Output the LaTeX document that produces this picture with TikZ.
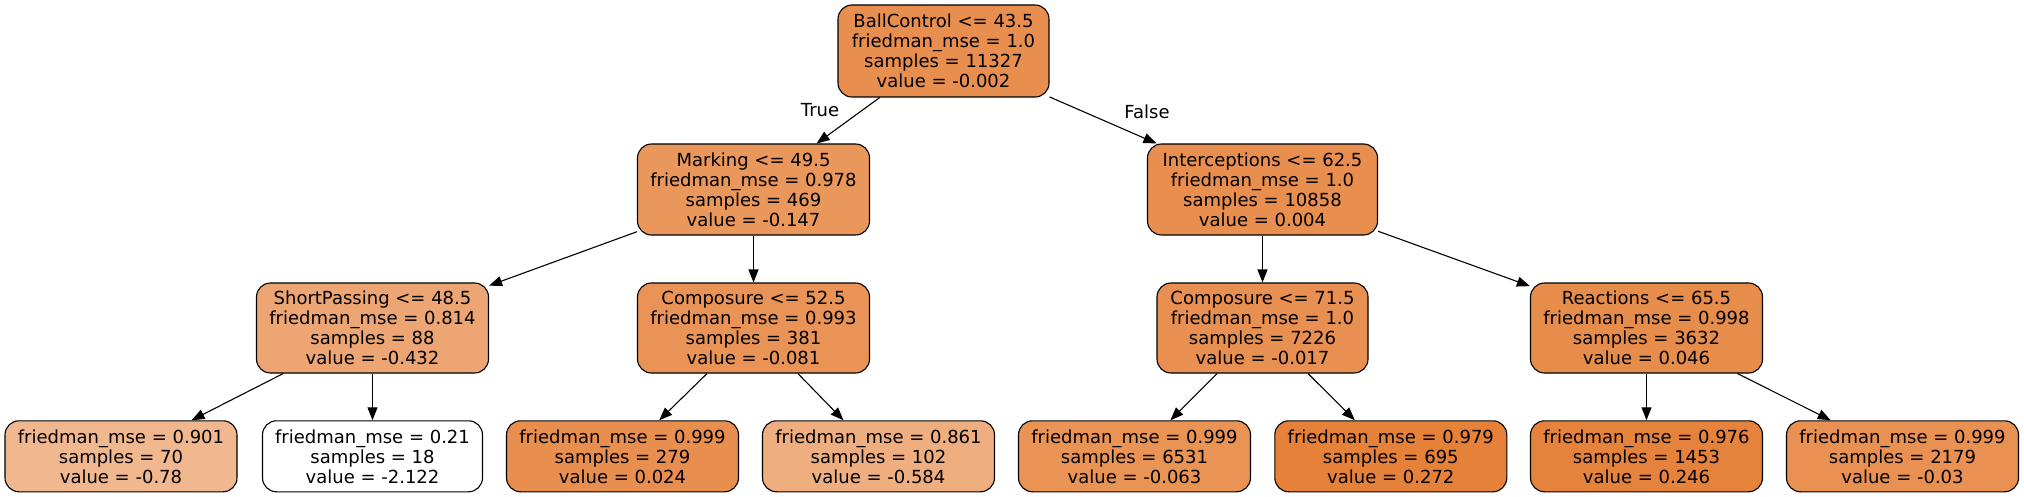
\documentclass[tikz,border=0pt]{standalone}
\usepackage{fontspec}
\setmainfont{DejaVu Sans}
\usetikzlibrary{arrows.meta}
\definecolor{croot}{RGB}{232,143,80}
\definecolor{cmark}{RGB}{234,151,92}
\definecolor{cinter}{RGB}{232,143,79}
\definecolor{cshort}{RGB}{237,166,115}
\definecolor{ccompa}{RGB}{233,148,86}
\definecolor{ccompb}{RGB}{232,144,81}
\definecolor{creact}{RGB}{231,141,76}
\definecolor{cla}{RGB}{241,184,144}
\definecolor{clb}{RGB}{255,255,255}
\definecolor{clc}{RGB}{232,142,78}
\definecolor{cld}{RGB}{238,174,128}
\definecolor{cle}{RGB}{233,147,85}
\definecolor{clf}{RGB}{229,129,57}
\definecolor{clg}{RGB}{229,130,59}
\definecolor{clh}{RGB}{232,145,82}
\tikzset{
  tnode/.style={draw=black, line width=1.1pt, rounded corners=14pt, inner sep=0pt,
    align=center, font=\fontsize{18}{20}\selectfont, minimum height=91pt},
  leafnode/.style={tnode, minimum height=71pt},
  edge/.style={line width=1.1pt, -{Triangle[length=13pt,width=10pt]}},
  elabel/.style={font=\fontsize{18}{20}\selectfont, inner sep=0pt}
}
\begin{document}
\begin{tikzpicture}[x=1pt,y=-1pt]
\useasboundingbox (0,0) rectangle (2024,497);
\node[tnode, fill=croot, minimum width=211pt, minimum height=92pt] (root) at (943.5,51)
  {BallControl <= 43.5\\friedman\_mse = 1.0\\samples = 11327\\value = -0.002};
\node[tnode, fill=cmark, minimum width=232pt] (mark) at (753.5,189.5)
  {Marking <= 49.5\\friedman\_mse = 0.978\\samples = 469\\value = -0.147};
\node[tnode, fill=cinter, minimum width=230pt] (inter) at (1262.5,189.5)
  {Interceptions <= 62.5\\friedman\_mse = 1.0\\samples = 10858\\value = 0.004};
\node[tnode, fill=cshort, minimum width=232pt, minimum height=90pt] (short) at (372.5,328)
  {ShortPassing <= 48.5\\friedman\_mse = 0.814\\samples = 88\\value = -0.432};
\node[tnode, fill=ccompa, minimum width=232pt, minimum height=90pt] (compa) at (753.5,328)
  {Composure <= 52.5\\friedman\_mse = 0.993\\samples = 381\\value = -0.081};
\node[tnode, fill=ccompb, minimum width=211pt, minimum height=90pt] (compb) at (1262.5,328)
  {Composure <= 71.5\\friedman\_mse = 1.0\\samples = 7226\\value = -0.017};
\node[tnode, fill=creact, minimum width=232pt, minimum height=90pt] (react) at (1646.5,328)
  {Reactions <= 65.5\\friedman\_mse = 0.998\\samples = 3632\\value = 0.046};
\node[leafnode, fill=cla, minimum width=232pt] (la) at (121,456.3)
  {friedman\_mse = 0.901\\samples = 70\\value = -0.78};
\node[leafnode, fill=clb, minimum width=220pt] (lb) at (372.5,456.3)
  {friedman\_mse = 0.21\\samples = 18\\value = -2.122};
\node[leafnode, fill=clc, minimum width=232pt] (lc) at (622.5,456.3)
  {friedman\_mse = 0.999\\samples = 279\\value = 0.024};
\node[leafnode, fill=cld, minimum width=232pt] (ld) at (878.5,456.3)
  {friedman\_mse = 0.861\\samples = 102\\value = -0.584};
\node[leafnode, fill=cle, minimum width=232pt] (le) at (1134.5,456.3)
  {friedman\_mse = 0.999\\samples = 6531\\value = -0.063};
\node[leafnode, fill=clf, minimum width=232pt] (lf) at (1390.8,456.3)
  {friedman\_mse = 0.979\\samples = 695\\value = 0.272};
\node[leafnode, fill=clg, minimum width=232pt] (lg) at (1646.5,456.3)
  {friedman\_mse = 0.976\\samples = 1453\\value = 0.246};
\node[leafnode, fill=clh, minimum width=232pt] (lh) at (1902.5,456.3)
  {friedman\_mse = 0.999\\samples = 2179\\value = -0.03};
\node[elabel] (ltrue) at (820,110) {True};
\node[elabel] (lfalse) at (1147,112) {False};
\draw[edge] (root) -- (mark);
\draw[edge] (root) -- (inter);
\draw[edge] (mark) -- (short);
\draw[edge] (mark) -- (compa);
\draw[edge] (inter) -- (compb);
\draw[edge] (inter) -- (react);
\draw[edge] (short) -- (la);
\draw[edge] (short) -- (lb);
\draw[edge] (compa) -- (lc);
\draw[edge] (compa) -- (ld);
\draw[edge] (compb) -- (le);
\draw[edge] (compb) -- (lf);
\draw[edge] (react) -- (lg);
\draw[edge] (react) -- (lh);
\end{tikzpicture}
\end{document}
